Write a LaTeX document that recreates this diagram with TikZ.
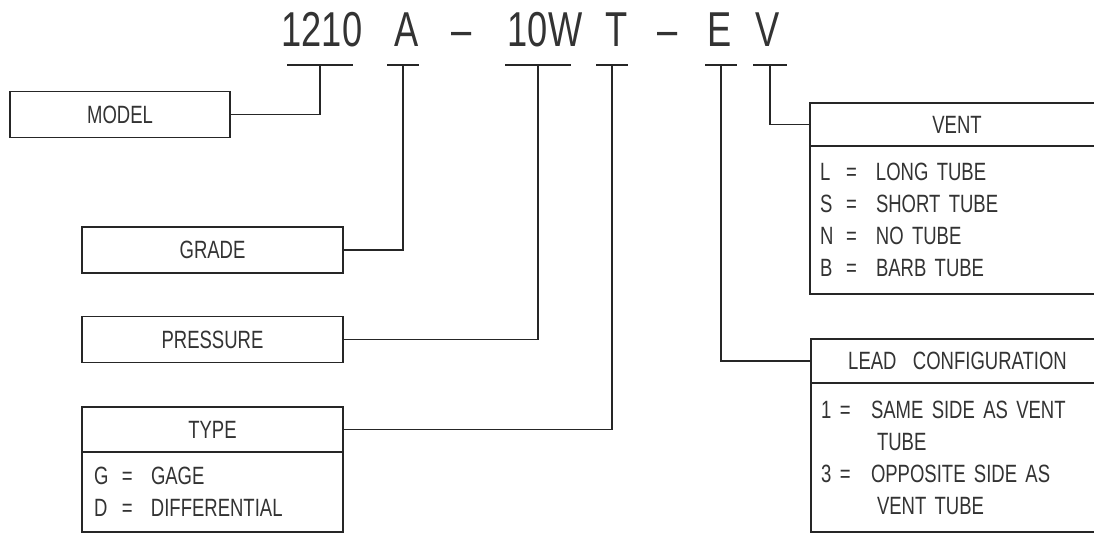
\documentclass[tikz,border=0pt]{standalone}
\usepackage{fontspec}
\setmainfont{Liberation Sans}[FakeStretch=0.74, WordSpace=3.2]
\usetikzlibrary{positioning}
\newcommand{\labfont}{\fontsize{25}{32}\selectfont}
\newcommand{\codefont}{\fontsize{49}{56}\selectfont}
% key = value line of an option list
\newcommand{\kvline}[4][29pt]{\makebox[#2][l]{#3}\makebox[#1][l]{=}#4}
\tikzset{
  wire/.style={line width=1.1pt, draw=black!85},
  code/.style={font=\codefont, text=black!80, inner sep=0pt, anchor=base},
  tag/.style={draw=black!85, line width=1.1pt, minimum width=261pt, minimum height=46pt,
              inner sep=0pt, outer sep=0pt, font=\labfont, text=black!80},
  optlist/.style={draw=black!85, line width=1.1pt, outer sep=0pt, inner ysep=0pt,
              align=left, font=\labfont, text=black!80}
}

\begin{document}
\begin{tikzpicture}[x=1pt, y=-1pt]
  \useasboundingbox (0,0) rectangle (1094,534);
  % part number
  \node[code] (n1210) at (322,47) {1210};
  \node[code] (nA)    at (407,47) {A};
  \node[code] (d1)    at (462,47) {\textendash};
  \node[code] (n10W)  at (545,47) {10W};
  \node[code] (nT)    at (617,47) {T};
  \node[code] (d2)    at (668,47) {\textendash};
  \node[code] (nE)    at (720,47) {E};
  \node[code] (nV)    at (768,47) {V};
  \foreach \n/\x/\w in {1210/320/33, A/403/16, 10W/538/33, T/612/16, E/721/16, V/770/17} {
    \coordinate (u\n) at (\x,65);
    \draw[wire] (\x-\w,65) -- (\x+\w,65);
  }

  % left side
  \node[tag, minimum width=220pt] (model) at (120,114.5) {MODEL};
  \node[tag] (grade) at (212.5,250) {GRADE};
  \node[tag] (press) at (212.5,339.5) {PRESSURE};
  \node[tag, minimum height=45pt] (type) at (212.5,429.5) {TYPE};
  \node[optlist, below=0pt of type, minimum width=261pt, minimum height=80pt,
        inner xsep=12pt, text width=237pt] (typelist)
    {\kvline{28pt}{G}{GAGE}\\ \kvline{28pt}{D}{DIFFERENTIAL}};

  % right side
  \node[tag, minimum width=294pt, minimum height=43pt] (vent) at (957,124.5) {VENT};
  \node[optlist, below=0pt of vent, minimum width=294pt, minimum height=148pt,
        inner xsep=10pt, text width=274pt] (ventlist)
    {\kvline[30pt]{26pt}{L}{LONG TUBE}\\ \kvline[30pt]{26pt}{S}{SHORT TUBE}\\
     \kvline[30pt]{26pt}{N}{NO TUBE}\\ \kvline[30pt]{26pt}{B}{BARB TUBE}};
  \node[tag, minimum width=293pt, minimum height=44pt] (lead) at (957.5,361) {LEAD CONFIGURATION};
  \node[optlist, below=0pt of lead, minimum width=293pt, minimum height=149pt,
        inner xsep=10pt, text width=273pt] (leadlist)
    {\kvline[31pt]{19pt}{1}{SAME SIDE AS VENT}\\ \hspace*{56pt}TUBE\\
     \kvline[31pt]{19pt}{3}{OPPOSITE SIDE AS}\\ \hspace*{56pt}VENT TUBE};

  % connectors
  \draw[wire] (model.east) -| (u1210);
  \draw[wire] (grade.east) -| (uA);
  \draw[wire] (press.east) -| (u10W);
  \draw[wire] (type.east) -| (uT);
  \draw[wire] (lead.west) -| (uE);
  \draw[wire] (vent.west) -| (uV);
\end{tikzpicture}
\end{document}
